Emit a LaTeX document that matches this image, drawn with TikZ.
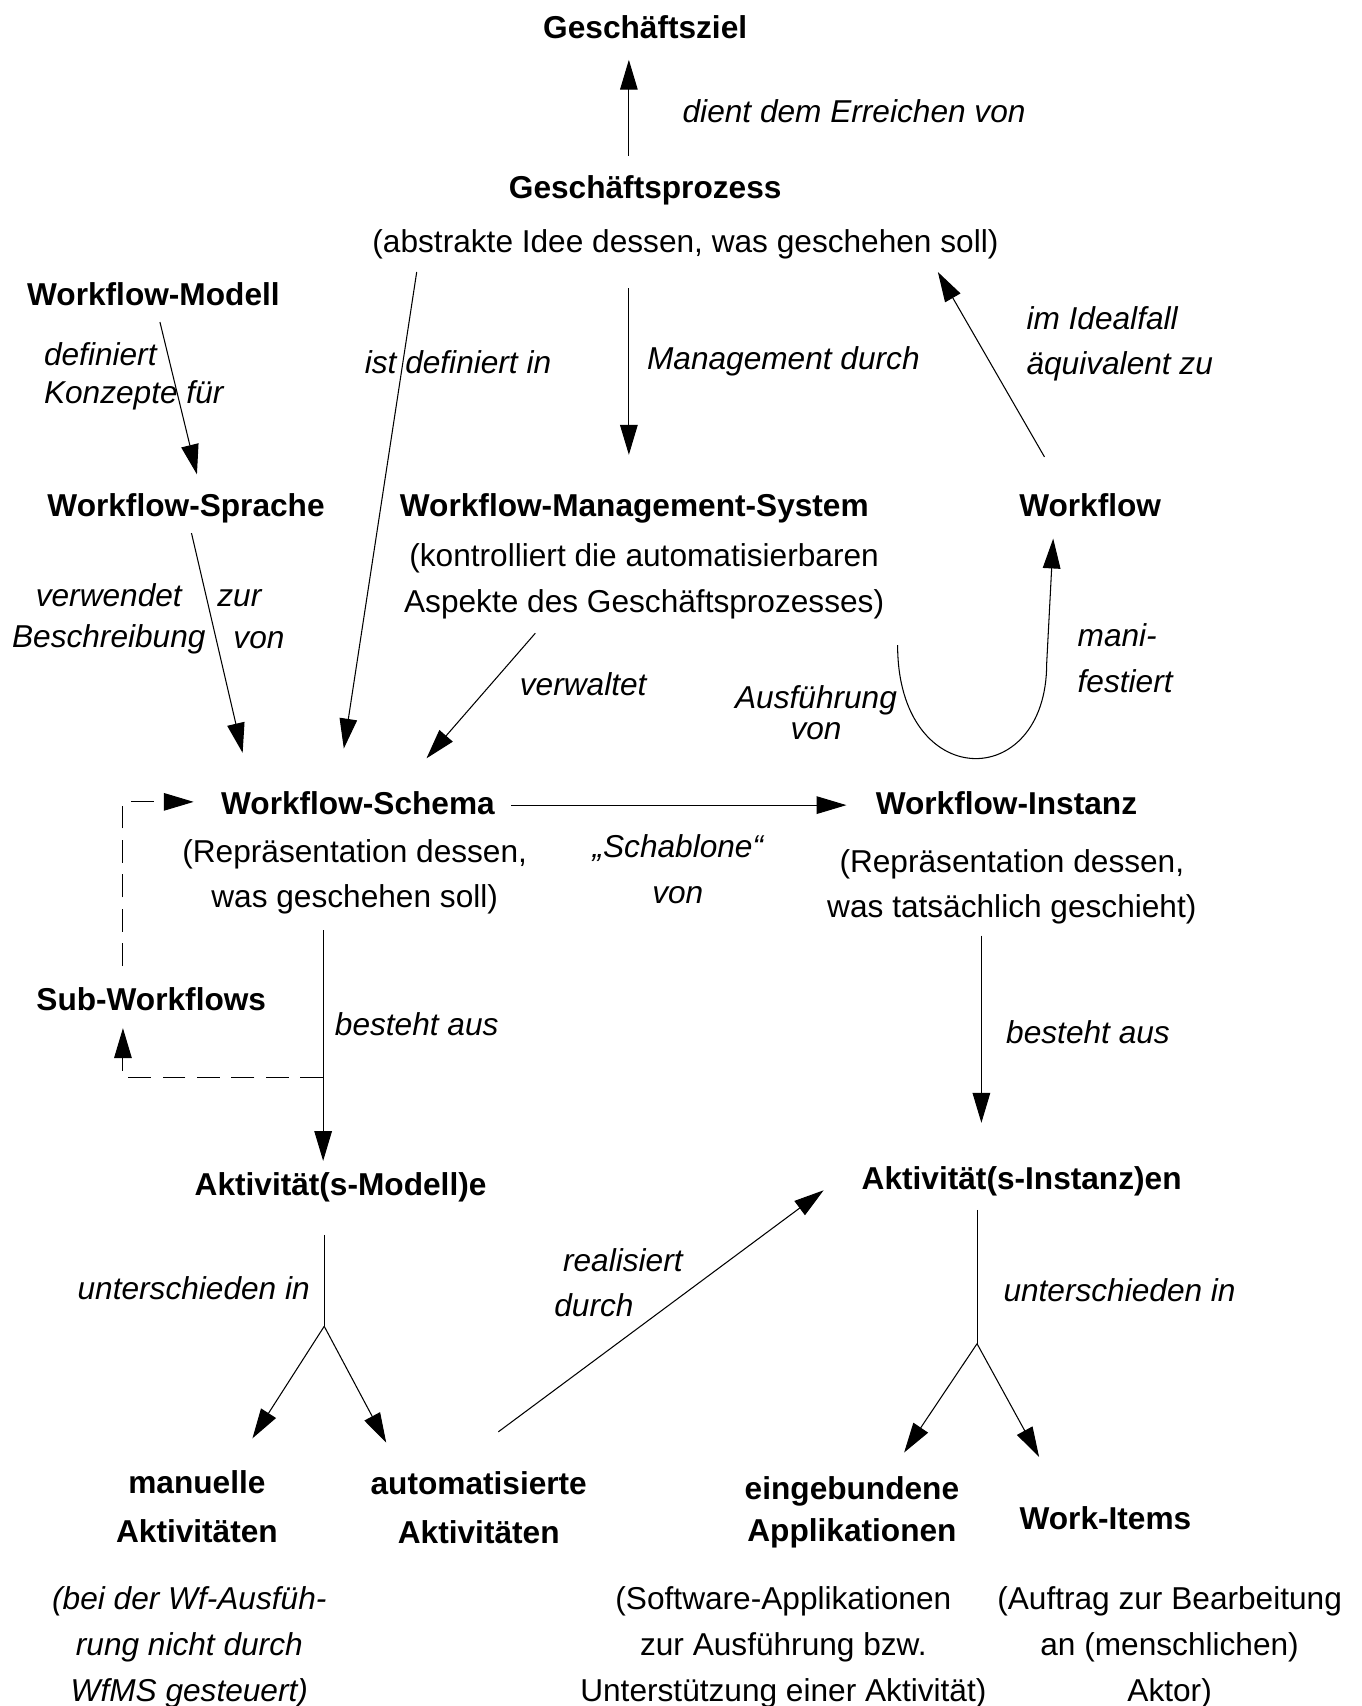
\documentclass[tikz,border=0pt]{standalone}
\usepackage{fontspec}
\setmainfont{Liberation Sans}
\usetikzlibrary{arrows.meta}

\begin{document}
\begin{tikzpicture}[x=0.02176cm, y=-0.02176cm, line width=0.6pt,
    every node/.style={inner sep=0pt, font=\fontsize{18}{26}\selectfont},
    begriff/.style={font=\fontsize{18}{26}\selectfont\bfseries, align=center},
    erkl/.style={align=center},
    rel/.style={font=\fontsize{18}{26}\selectfont\itshape},
    pfeil/.style={-{Triangle[length=17pt,width=10pt]}},
    strich/.style={pfeil, dash pattern=on 13pt off 6.6pt}]
  \useasboundingbox (0,0) rectangle (1251,1568);

  % Begriffe
  \node[begriff] (ziel) at (593,25) {Geschäftsziel};
  \node[begriff] (prozess) at (593,175) {Geschäftsprozess};
  \node[erkl] (prozessdesc) at (630,225) {(abstrakte Idee dessen, was geschehen soll)};
  \node[begriff] (modell) at (141,270) {Workflow-Modell};
  \node[begriff] (sprache) at (171,467) {Workflow-Sprache};
  \node[begriff] (wfms) at (583,467) {Workflow-Management-System};
  \node[erkl] (wfmsdesc) at (592,534) {(kontrolliert die automatisierbaren\\Aspekte des Geschäftsprozesses)};
  \node[begriff] (workflow) at (1002,464) {Workflow};
  \node[begriff] (schema) at (329,738) {Workflow-Schema};
  \node[erkl] (schemadesc) at (326,806) {(Repräsentation dessen,\\was geschehen soll)};
  \node[begriff] (instanz) at (925,738) {Workflow-Instanz};
  \node[erkl] (instanzdesc) at (930,815) {(Repräsentation dessen,\\was tatsächlich geschieht)};
  \node[begriff] (sub) at (139,918) {Sub-Workflows};
  \node[begriff] (amodell) at (313,1091) {Aktivität(s-Modell)e};
  \node[begriff] (ainstanz) at (939,1086) {Aktivität(s-Instanz)en};
  \node[begriff] (manuell) at (181,1385) {manuelle\\[2pt]Aktivitäten};
  \node[begriff] (auto) at (440,1386) {automatisierte\\[2pt]Aktivitäten};
  \node[begriff] (eingeb) at (783,1390) {eingebundene\\[-2pt]Applikationen};
  \node[begriff] (workitems) at (1016,1395) {Work-Items};
  \node[erkl, rel] (manuelldesc) at (174,1514) {(bei der Wf-Ausfüh-\\rung nicht durch\\WfMS gesteuert)};
  \node[erkl] (swdesc) at (720,1514) {(Software-Applikationen\\zur Ausführung bzw.\\Unterstützung einer Aktivität)};
  \node[erkl] (auftragdesc) at (1075,1514) {(Auftrag zur Bearbeitung\\an (menschlichen)\\Aktor)};

  % Beziehungen
  \node[rel] (dient) at (785,102) {dient dem Erreichen von};
  \node[rel] (istdef) at (421,333) {ist definiert in};
  \node[rel] (mgmt) at (720,332) {Management durch};
  \node[rel, align=left, anchor=west] (ideal) at (943,316) {im Idealfall\\äquivalent zu};
  \node[rel, align=left, anchor=west] (defkonz) at (40,346) {definiert\\[-4pt]Konzepte für};
  \node[rel, align=center] (verw) at (100,569) {verwendet\\[-2.5pt]Beschreibung};
  \node[rel] (zur) at (220,550) {zur};
  \node[rel] (von) at (238,588) {von};
  \node[rel] (verwaltet) at (536,629) {verwaltet};
  \node[rel, align=center] (ausf) at (750,655) {Ausführung\\[-8pt]von};
  \node[rel, align=left, anchor=west] (mani) at (990,605) {mani-\\festiert};
  \node[rel, align=center] (schabl) at (623,799) {„Schablone“\\von};
  \node[rel] (besteht1) at (383,941) {besteht aus};
  \node[rel] (besteht2) at (1000,949) {besteht aus};
  \node[rel] (unter1) at (178,1184) {unterschieden in};
  \node[rel] (unter2) at (1029,1186) {unterschieden in};
  \node[rel, align=left, anchor=west] (realis) at (509,1179) {\hspace*{5pt}realisiert\\durch};

  \coordinate (abzweig) at (297,990);
  \coordinate (gabel1) at (298,1219);
  \coordinate (gabel2) at (898,1235);

  \draw[pfeil] ([shift={(-15,-32)}]prozess.center) -- ([shift={(-15,30)}]ziel.center);
  \draw[pfeil] ([shift={(-52,40)}]prozessdesc.center) -- ([shift={(-5,-49)}]wfms.center);
  \draw[pfeil] ([shift={(-247,25)}]prozessdesc.center) -- ([shift={(-13,-50)}]schema.center);
  \draw[pfeil] ([shift={(-42,-44)}]workflow.center) -- ([shift={(232,25)}]prozessdesc.center);
  \draw[pfeil] ([shift={(6,26)}]modell.center) -- ([shift={(10,-31)}]sprache.center);
  \draw[pfeil] ([shift={(5,23)}]sprache.center) -- ([shift={(-106,-46)}]schema.center);
  \draw[pfeil] ([shift={(-100,48)}]wfmsdesc.center) -- ([shift={(63,-41)}]schema.center);
  \draw[pfeil] ([shift={(233,59)}]wfmsdesc.center) .. controls +(0,136) and +(0,119) .. ++(137,17)
    -- ([shift={(-34,31)}]workflow.center);
  \draw[pfeil] ([shift={(141,2)}]schema.center) -- ([shift={(-147,2)}]instanz.center);
  \draw[pfeil] ([shift={(-29,49)}]schemadesc.center) -- ([shift={(-16,-24)}]amodell.center);
  \draw[strich] (abzweig) -| ([shift={(-26,27)}]sub.center);
  \draw[strich] ([shift={(-26,-30)}]sub.center) |- ([shift={(-151,-1)}]schema.center);
  \draw[pfeil] ([shift={(-28,45)}]instanzdesc.center) -- ([shift={(-37,-54)}]ainstanz.center);

  % Verzweigungen
  \draw ([shift={(-15,44)}]amodell.center) -- (gabel1);
  \draw[pfeil] (gabel1) -- ([shift={(51,-63)}]manuell.center);
  \draw[pfeil] (gabel1) -- ([shift={(-85,-60)}]auto.center);
  \draw ([shift={(-41,26)}]ainstanz.center) -- (gabel2);
  \draw[pfeil] (gabel2) -- ([shift={(48,-55)}]eingeb.center);
  \draw[pfeil] (gabel2) -- ([shift={(-61,-56)}]workitems.center);
  \draw[pfeil] ([shift={(18,-70)}]auto.center) -- ([shift={(-182,8)}]ainstanz.center);
\end{tikzpicture}
\end{document}
